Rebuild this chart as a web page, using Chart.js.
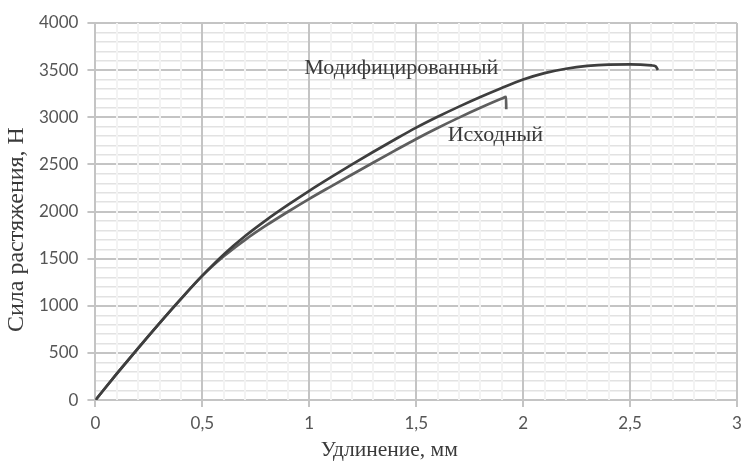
<!DOCTYPE html>
<html>
<head>
<meta charset="utf-8">
<script src="https://cdn.jsdelivr.net/npm/chart.js@4.4.0/dist/chart.umd.min.js"></script>
<style>
  html, body { margin: 0; padding: 0; background: #fff; }
  #wrap { width: 742px; height: 461px; }
</style>
</head>
<body>
<div id="wrap"><canvas id="myChart"></canvas></div>
<script>
//-------------------------------------------------- data
const modX = [0, 0.1, 0.2, 0.3, 0.4, 0.5, 0.6, 0.7, 0.8, 0.9, 1.0, 1.1, 1.2, 1.3, 1.4, 1.5, 1.6, 1.7, 1.8, 1.9, 2.0, 2.1, 2.2, 2.3, 2.4, 2.5, 2.6, 2.62, 2.63];
const modY = [0, 280, 552, 817, 1074, 1320, 1545, 1740, 1912, 2070, 2220, 2362, 2500, 2634, 2764, 2890, 3005, 3113, 3215, 3311, 3400, 3468, 3515, 3545, 3559, 3561, 3550, 3540, 3502];
const srcX = [0, 0.1, 0.2, 0.3, 0.4, 0.5, 0.6, 0.7, 0.8, 0.9, 1.0, 1.1, 1.2, 1.3, 1.4, 1.5, 1.6, 1.7, 1.8, 1.9, 1.92, 1.921];
const srcY = [0, 280, 552, 817, 1074, 1320, 1525, 1700, 1855, 1998, 2135, 2265, 2393, 2520, 2646, 2770, 2886, 2996, 3100, 3198, 3216, 3085];
const seriesNames = ["Модифицированный", "Исходный"];
const nameX = [1.43, 1.87];
const nameY = [3522, 2812];
const xTicks = [0, 0.5, 1, 1.5, 2, 2.5, 3];
const yTicks = [0, 500, 1000, 1500, 2000, 2500, 3000, 3500, 4000];
const xTitle = "Удлинение, мм";
const yTitle = "Сила растяжения, Н";
//^^^^^^^^^^^^^^^^^^^^^^^^^^^^^^^^^^^^^^^^^^^^^^^^^^ data

const isMajor = (list, v) => list.some(t => Math.abs(t - v) < 1e-6);
const toPoints = (xs, ys) => xs.map((x, i) => ({ x: x, y: ys[i] }));
const nbsp = n => "\u00a0".repeat(n);   // titles are not centred in the original

// curve names written next to the lines
const curveLabels = {
    id: "curveLabels",
    afterDatasetsDraw(chart) {
        const { ctx, scales: { x, y } } = chart;
        ctx.save();
        ctx.font = '22px "Liberation Serif"';
        ctx.fillStyle = "#3a3a3a";
        ctx.textAlign = "center";
        ctx.textBaseline = "middle";
        seriesNames.forEach((name, i) => {
            ctx.fillText(name, x.getPixelForValue(nameX[i]), y.getPixelForValue(nameY[i]));
        });
        ctx.restore();
    }
};

new Chart(document.getElementById("myChart"), {
    type: "scatter",
    data: {
        datasets: [
            {
                label: seriesNames[0],
                data: toPoints(modX, modY),
                showLine: true,
                borderColor: "#3e3e3e",
                borderWidth: 2.7,
                pointRadius: 0,
                cubicInterpolationMode: "monotone"
            },
            {
                label: seriesNames[1],
                data: toPoints(srcX, srcY),
                showLine: true,
                borderColor: "#5e5e5e",
                borderWidth: 2.7,
                pointRadius: 0,
                cubicInterpolationMode: "monotone"
            }
        ]
    },
    options: {
        responsive: true,
        maintainAspectRatio: false,
        animation: false,
        layout: { padding: { left: 5, right: 5, top: 23, bottom: 0 } },
        plugins: { legend: { display: false }, tooltip: { enabled: false } },
        scales: {
            x: {
                type: "linear",
                min: 0,
                max: 3,
                afterFit: s => { s.paddingRight = 0; },
                border: { display: false },
                grid: {
                    z: -1,
                    color: c => isMajor(xTicks, c.tick.value) ? "#c4c4c4" : "#f3f3f3",
                    lineWidth: 2,
                    tickLength: 7,
                    tickColor: c => isMajor(xTicks, c.tick.value) ? "#c4c4c4" : "rgba(0,0,0,0)"
                },
                ticks: {
                    stepSize: 0.1,
                    autoSkip: false,
                    maxRotation: 0,
                    padding: 6,
                    color: "#555555",
                    font: { family: "Lato", size: 17 },
                    callback: v => isMajor(xTicks, v) ? String(Math.round(v * 10) / 10).replace(".", ",") : ""
                },
                title: {
                    display: true,
                    text: xTitle + nbsp(10),
                    color: "#3a3a3a",
                    font: { family: "Liberation Serif", size: 21.5, lineHeight: 1 },
                    padding: { top: 0, bottom: 0 }
                }
            },
            y: {
                min: 0,
                max: 4000,
                border: { display: false },
                grid: {
                    z: -2,
                    color: c => isMajor(yTicks, c.tick.value) ? "#c4c4c4" : "#e2e2e2",
                    lineWidth: c => isMajor(yTicks, c.tick.value) ? 2 : 1.5,
                    tickLength: 8,
                    tickColor: c => isMajor(yTicks, c.tick.value) ? "#c4c4c4" : "rgba(0,0,0,0)"
                },
                ticks: {
                    stepSize: 100,
                    autoSkip: false,
                    padding: 9,
                    color: "#555555",
                    font: { family: "Lato", size: 17 },
                    callback: v => isMajor(yTicks, v) ? String(v) : ""
                },
                title: {
                    display: true,
                    text: yTitle + nbsp(6),
                    color: "#3a3a3a",
                    font: { family: "Liberation Serif", size: 24, lineHeight: 1 },
                    padding: { top: 0, bottom: 1 }
                }
            }
        }
    },
    plugins: [curveLabels]
});
</script>
</body>
</html>
